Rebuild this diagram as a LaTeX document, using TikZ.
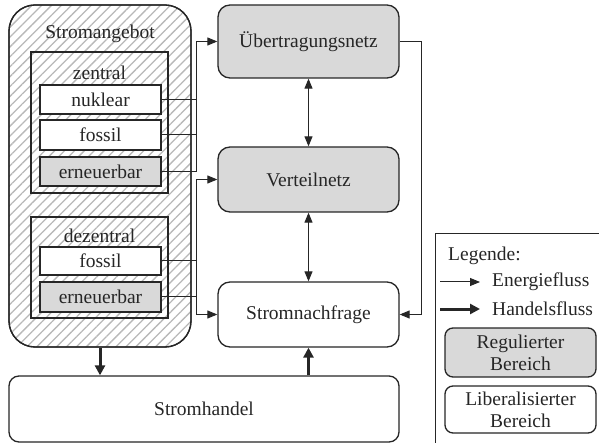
\documentclass[tikz,border=0pt]{standalone}
\usepackage{fontspec}
\setmainfont{LiberationSerif}[Extension=.ttf, UprightFont=*-Regular, BoldFont=*-Bold]
\usetikzlibrary{arrows.meta,patterns.meta,calc}
\definecolor{ln}{HTML}{262626}
\definecolor{reg}{HTML}{D9D9D9}
\begin{document}
\begin{tikzpicture}[x=1pt,y=-1pt,
  every node/.style={font=\rmfamily\fontsize{19.5}{22}\selectfont, text=ln, inner sep=0pt, align=center},
  box/.style={draw=ln, line width=1.3pt, rectangle},
  netz/.style={box, rounded corners=12pt, fill=reg},
  lib/.style={box, rounded corners=12pt, fill=white},
  src/.style={box, fill=white, minimum width=121pt},
  srcg/.style={src, fill=reg},
  grp/.style={box, minimum width=137pt},
  flow/.style={draw=ln, line width=1pt, -{Triangle[length=10pt,width=8pt]}},
  flowtwo/.style={draw=ln, line width=1pt, {Triangle[length=10pt,width=8pt]}-{Triangle[length=10pt,width=8pt]}},
  trade/.style={draw=ln, line width=3pt, -{Triangle[length=10pt,width=10pt]}},
  plain/.style={draw=ln, line width=1pt}
]
\useasboundingbox (0,0) rectangle (599,443);
% Stromangebot
\node[box, rounded corners=26pt, minimum width=182pt, minimum height=342pt,
  pattern={Lines[angle=45,distance=7pt,line width=1.3pt]}, pattern color=black!28] (sa) at (100,176) {};
\draw[draw=ln, line width=1.3pt, rounded corners=26pt] (9,5) rectangle (191,347);
\node (satitle) at (100,34) {Stromangebot};
% zentral
\node[grp, minimum height=141pt] (zen) at (99.5,122.5) {};
\node (zenl) at (99.5,73) {zentral};
\node[src, minimum height=29pt] (nuk) at (100.5,99.5) {nuklear};
\node[src, minimum height=30pt] (fos1) at (100.5,135) {fossil};
\node[srcg, minimum height=29pt] (ern1) at (100.5,171.5) {erneuerbar};
% dezentral
\node[grp, minimum height=101pt] (dez) at (99.5,267.5) {};
\node (dezl) at (99.5,236) {dezentral};
\node[src, minimum height=28pt] (fos2) at (100.5,261) {fossil};
\node[srcg, minimum height=30pt] (ern2) at (100.5,297) {erneuerbar};
% Netze
\node[netz, minimum width=181pt, minimum height=73pt] (ue) at (308.5,41.5) {Übertragungsnetz};
\node[netz, minimum width=181pt, minimum height=65pt] (vn) at (308.5,179.5) {Verteilnetz};
\node[lib, minimum width=181pt, minimum height=65pt] (sn) at (308.5,314.5) {Stromnachfrage};
\node[box, rounded corners=10pt, fill=white, minimum width=390pt, minimum height=66pt] (sh) at (204,409) {Stromhandel};
% buses
\coordinate (busx) at (196,0);
\coordinate (rx) at (421,0);
\draw[plain] (nuk.east) -- (nuk.east -| busx);
\draw[plain] (fos1.east) -- (fos1.east -| busx);
\draw[flow] (ern1.east) -- (ern1.east -| busx) |- (ue.west);
\draw[plain] (fos2.east) -- (fos2.east -| busx);
\draw[plain] (ern2.east) -- (ern2.east -| busx);
\draw[flow] (busx |- sn.west) |- (vn.west);
\draw[flow] (busx |- sn.west) -- (sn.west);
\draw[flow] (ue.east) -- (ue.east -| rx) |- (sn.east);
\draw[flowtwo] (ue.south) -- (vn.north);
\draw[flowtwo] (vn.south) -- (sn.north);
\draw[trade] (sa.south) -- (sa.south |- sh.north);
\draw[trade] (sh.north -| sn.south) -- (sn.south);
% Legende
\draw[draw=ln, line width=1pt] (435,450) -- (435,234) -- (605,234);
\node[anchor=west] (leg) at (448,256) {Legende:};
\coordinate (e1) at (440,282);
\coordinate (e2) at (480,282);
\coordinate (h1) at (440,309);
\coordinate (h2) at (480,309);
\draw[flow] (e1) -- (e2);
\draw[trade] (h1) -- (h2);
\node[anchor=west] (el) at (492,282) {Energiefluss};
\node[anchor=west] (hl) at (492,309) {Handelsfluss};
\node[netz, rounded corners=8pt, minimum width=151pt, minimum height=49pt] (lreg) at (520.5,352.5) {Regulierter\\Bereich};
\node[lib, rounded corners=8pt, minimum width=151pt, minimum height=47pt] (llib) at (520.5,409.5) {Liberalisierter\\Bereich};
\end{tikzpicture}
\end{document}
